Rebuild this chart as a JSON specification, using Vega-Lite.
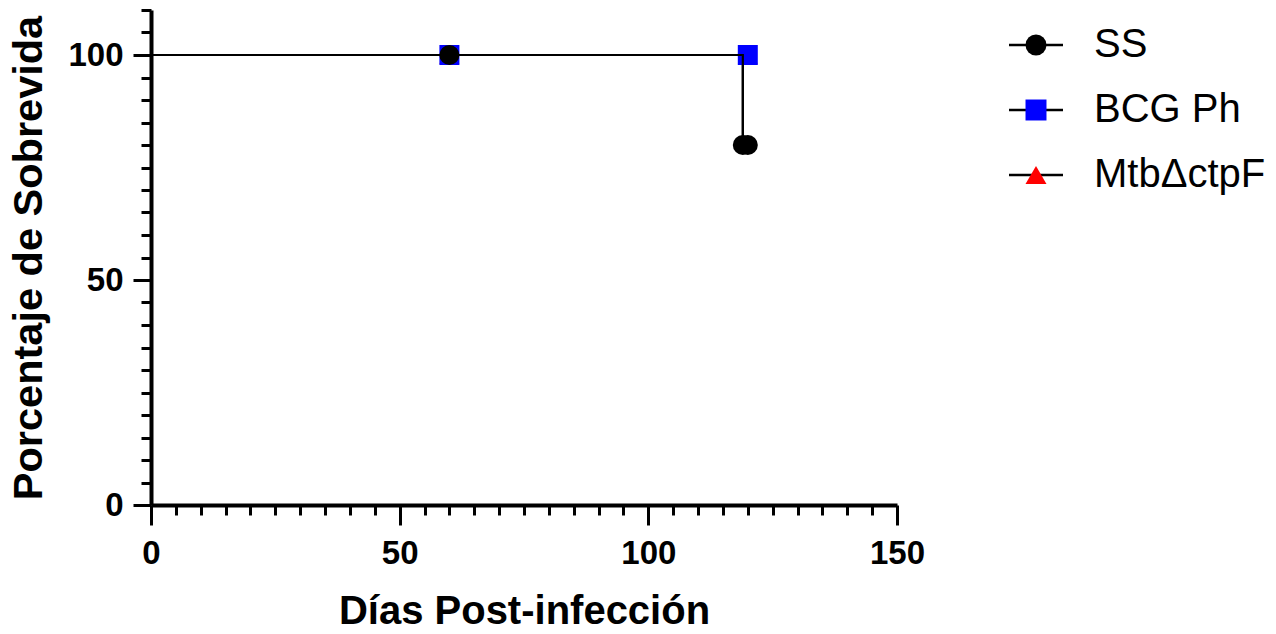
{
  "$schema": "https://vega.github.io/schema/vega-lite/v6.json",
  "width": 746,
  "height": 495,
  "autosize": {"type": "none"},
  "padding": {"left": 151, "top": 10, "right": 379, "bottom": 129},
  "background": "white",
  "config": {
    "view": {"stroke": null},
    "axis": {
      "grid": false,
      "domainColor": "black",
      "domainWidth": 4,
      "tickColor": "black",
      "tickWidth": 3,
      "labelColor": "black",
      "labelFont": "Liberation Sans",
      "labelFontWeight": "bold",
      "labelFontSize": 33,
      "labelOverlap": false,
      "labelFlush": false,
      "titleColor": "black",
      "titleFont": "Liberation Sans",
      "titleFontWeight": "bold",
      "titleFontSize": 40
    }
  },
  "resolve": {"axis": {"x": "independent", "y": "independent"}},
  "datasets": {
    "curvas": [
      {"grupo": "MtbΔctpF", "dia": 0, "pct": 100},
      {"grupo": "MtbΔctpF", "dia": 120, "pct": 100},
      {"grupo": "BCG Ph", "dia": 0, "pct": 100},
      {"grupo": "BCG Ph", "dia": 120, "pct": 100},
      {"grupo": "SS", "dia": 0, "pct": 100},
      {"grupo": "SS", "dia": 119, "pct": 80},
      {"grupo": "SS", "dia": 120, "pct": 80}
    ],
    "puntos": [
      {"serie": "MtbΔctpF", "dia": 60, "pct": 100},
      {"serie": "MtbΔctpF", "dia": 120, "pct": 100},
      {"serie": "BCG Ph", "dia": 60, "pct": 100},
      {"serie": "BCG Ph", "dia": 120, "pct": 100},
      {"serie": "SS", "dia": 60, "pct": 100},
      {"serie": "SS", "dia": 119, "pct": 80},
      {"serie": "SS", "dia": 120, "pct": 80}
    ]
  },
  "layer": [
    {
      "data": {"name": "curvas"},
      "mark": {"type": "line", "interpolate": "step-after", "color": "black", "strokeWidth": 2.2},
      "encoding": {
        "x": {
          "field": "dia", "type": "quantitative",
          "scale": {"domain": [0, 150], "nice": false, "zero": false},
          "axis": {
            "orient": "bottom",
            "title": "Días Post-infección",
            "values": [0, 50, 100, 150],
            "tickSize": 20,
            "labelPadding": 12,
            "titlePadding": 21
          }
        },
        "y": {
          "field": "pct", "type": "quantitative",
          "scale": {"domain": [0, 110], "nice": false},
          "axis": {
            "orient": "left",
            "title": "Porcentaje de Sobrevida",
            "titleFontSize": 41.5,
            "values": [0, 50, 100],
            "tickSize": 18,
            "labelPadding": 10,
            "titlePadding": 17
          }
        },
        "strokeDash": {
          "field": "grupo", "type": "nominal",
          "scale": {"range": [[1, 0], [1, 0], [1, 0]]},
          "legend": {
            "orient": "none", "legendX": 865, "legendY": 15, "title": null, "padding": 0,
            "symbolType": "M-2.7,0H2.7",
            "symbolSize": 400, "symbolStrokeColor": "black", "symbolStrokeWidth": 2.5,
            "symbolFillColor": "transparent",
            "labelFontSize": 40, "labelFont": "Liberation Sans", "labelExpr": "''",
            "labelOffset": 38, "labelLimit": 400, "rowPadding": 25
          }
        }
      }
    },
    {
      "data": {"name": "puntos"},
      "mark": {"type": "point", "filled": true, "opacity": 1, "size": 400, "strokeWidth": 0},
      "encoding": {
        "x": {"field": "dia", "type": "quantitative", "axis": null},
        "y": {"field": "pct", "type": "quantitative", "axis": null},
        "color": {
          "field": "serie", "type": "nominal",
          "scale": {"domain": ["SS", "BCG Ph", "MtbΔctpF"], "range": ["black", "#0000ff", "#ff0000"]},
          "legend": {
            "orient": "none", "legendX": 865, "legendY": 15, "title": null, "padding": 0,
            "symbolSize": 440, "symbolStrokeWidth": 0, "symbolOpacity": 1,
            "labelFontSize": 40, "labelFont": "Liberation Sans", "labelColor": "black",
            "labelOffset": 38, "labelLimit": 400, "rowPadding": 25
          }
        },
        "shape": {
          "field": "serie", "type": "nominal",
          "scale": {"domain": ["SS", "BCG Ph", "MtbΔctpF"], "range": ["circle", "square", "triangle-up"]}
        }
      }
    },
    {
      "data": {"name": "curvas"},
      "transform": [{"filter": "datum.grupo === 'SS'"}],
      "mark": {"type": "line", "interpolate": "step-after", "color": "black", "strokeWidth": 2.2},
      "encoding": {
        "x": {
          "field": "dia", "type": "quantitative",
          "axis": {
            "orient": "bottom",
            "title": null,
            "values": [5,10,15,20,25,30,35,40,45,55,60,65,70,75,80,85,90,95,105,110,115,120,125,130,135,140,145],
            "labels": false,
            "domain": false,
            "tickSize": 10
          }
        },
        "y": {
          "field": "pct", "type": "quantitative",
          "axis": {
            "orient": "left",
            "title": null,
            "values": [5,10,15,20,25,30,35,40,45,55,60,65,70,75,80,85,90,95,105,110],
            "labels": false,
            "domain": false,
            "tickSize": 10
          }
        }
      }
    }
  ]
}
